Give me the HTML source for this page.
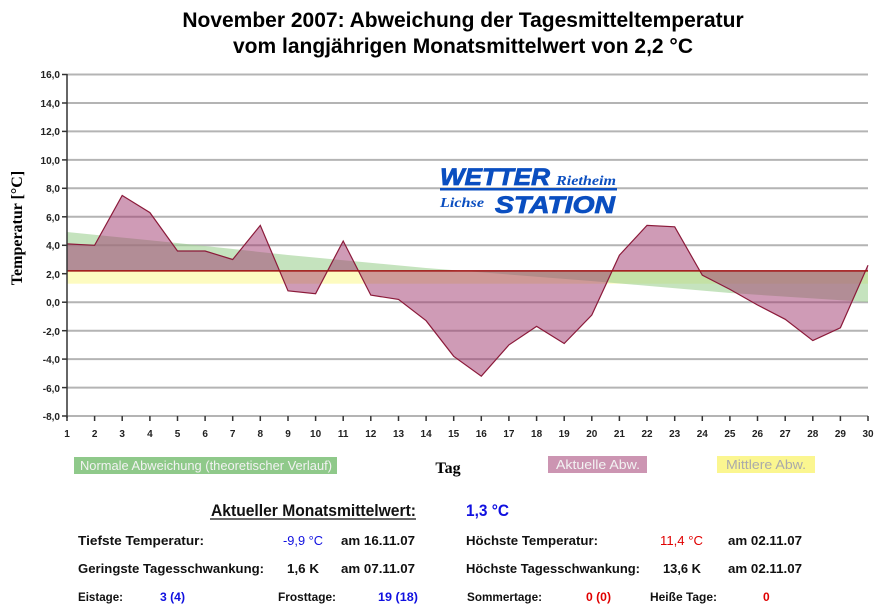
<!DOCTYPE html>
<html><head><meta charset="utf-8"><style>
body{margin:0;background:#fff;}
svg{display:block;font-family:"Liberation Sans",Arial,sans-serif;}
</style></head><body>
<svg width="881" height="608" viewBox="0 0 881 608">
<text x="463" y="27" font-weight="bold" font-size="21" text-anchor="middle">November 2007: Abweichung der Tagesmitteltemperatur</text>
<text x="463" y="53" font-weight="bold" font-size="21" text-anchor="middle">vom langjährigen Monatsmittelwert von 2,2 °C</text>

<g stroke="#b4b4b4" stroke-width="2">
<line x1="67" y1="74.5" x2="868" y2="74.5"/><line x1="67" y1="103" x2="868" y2="103"/>
<line x1="67" y1="131.4" x2="868" y2="131.4"/><line x1="67" y1="159.9" x2="868" y2="159.9"/>
<line x1="67" y1="188.3" x2="868" y2="188.3"/><line x1="67" y1="216.8" x2="868" y2="216.8"/>
<line x1="67" y1="245.3" x2="868" y2="245.3"/><line x1="67" y1="273.7" x2="868" y2="273.7"/>
<line x1="67" y1="302.2" x2="868" y2="302.2"/><line x1="67" y1="330.7" x2="868" y2="330.7"/>
<line x1="67" y1="359.1" x2="868" y2="359.1"/><line x1="67" y1="387.6" x2="868" y2="387.6"/>
<line x1="67" y1="416" x2="868" y2="416"/>
</g>
<rect x="67" y="270.9" width="801" height="12.8" fill="#fdfbc0"/>
<polygon points="67,232 177,243 288,255 426,268 591,281 730,293 868,302 868,270.9 67,270.9" fill="#9fd092" fill-opacity="0.6"/>
<polygon points="67,270.9 67,243.9 94.6,245.3 122.2,195.5 149.9,212.6 177.5,251 205.1,251 232.7,259.5 260.3,225.4 288,290.8 315.6,293.7 343.2,241 370.8,295.1 398.5,299.4 426.1,320.7 453.7,356.3 481.3,376.2 508.9,344.9 536.6,326.4 564.2,343.5 591.8,315 619.4,255.2 647,225.4 674.7,226.8 702.3,275.2 729.9,289.4 757.5,305 785.2,319.3 812.8,340.6 840.4,327.8 868,265.2 868,270.9" fill="#a0386e" fill-opacity="0.5"/>
<polyline points="67,243.9 94.6,245.3 122.2,195.5 149.9,212.6 177.5,251 205.1,251 232.7,259.5 260.3,225.4 288,290.8 315.6,293.7 343.2,241 370.8,295.1 398.5,299.4 426.1,320.7 453.7,356.3 481.3,376.2 508.9,344.9 536.6,326.4 564.2,343.5 591.8,315 619.4,255.2 647,225.4 674.7,226.8 702.3,275.2 729.9,289.4 757.5,305 785.2,319.3 812.8,340.6 840.4,327.8 868,265.2" fill="none" stroke="#8b1a3a" stroke-width="1.2"/>
<line x1="67" y1="270.9" x2="868" y2="270.9" stroke="#a01010" stroke-width="1.5"/>
<line x1="67" y1="74" x2="67" y2="418" stroke="#333" stroke-width="1.5"/>
<g stroke="#333" stroke-width="1.5">
<line x1="62" y1="74.5" x2="67" y2="74.5"/><line x1="62" y1="103" x2="67" y2="103"/><line x1="62" y1="131.4" x2="67" y2="131.4"/><line x1="62" y1="159.9" x2="67" y2="159.9"/><line x1="62" y1="188.3" x2="67" y2="188.3"/><line x1="62" y1="216.8" x2="67" y2="216.8"/><line x1="62" y1="245.3" x2="67" y2="245.3"/><line x1="62" y1="273.7" x2="67" y2="273.7"/><line x1="62" y1="302.2" x2="67" y2="302.2"/><line x1="62" y1="330.7" x2="67" y2="330.7"/><line x1="62" y1="359.1" x2="67" y2="359.1"/><line x1="62" y1="387.6" x2="67" y2="387.6"/><line x1="62" y1="416" x2="67" y2="416"/>
</g>
<g font-size="10" font-weight="bold" fill="#222" text-anchor="end">
<text x="60" y="78">16,0</text><text x="60" y="107">14,0</text><text x="60" y="135">12,0</text><text x="60" y="164">10,0</text><text x="60" y="192">8,0</text><text x="60" y="221">6,0</text><text x="60" y="249">4,0</text><text x="60" y="278">2,0</text><text x="60" y="306">0,0</text><text x="60" y="335">-2,0</text><text x="60" y="363">-4,0</text><text x="60" y="392">-6,0</text><text x="60" y="420">-8,0</text>
</g>
<g font-size="10" font-weight="bold" fill="#222" text-anchor="middle">
<text x="67" y="437">1</text><text x="94.6" y="437">2</text><text x="122.2" y="437">3</text><text x="149.9" y="437">4</text><text x="177.5" y="437">5</text><text x="205.1" y="437">6</text><text x="232.7" y="437">7</text><text x="260.3" y="437">8</text><text x="288" y="437">9</text><text x="315.6" y="437">10</text><text x="343.2" y="437">11</text><text x="370.8" y="437">12</text><text x="398.5" y="437">13</text><text x="426.1" y="437">14</text><text x="453.7" y="437">15</text><text x="481.3" y="437">16</text><text x="508.9" y="437">17</text><text x="536.6" y="437">18</text><text x="564.2" y="437">19</text><text x="591.8" y="437">20</text><text x="619.4" y="437">21</text><text x="647" y="437">22</text><text x="674.7" y="437">23</text><text x="702.3" y="437">24</text><text x="729.9" y="437">25</text><text x="757.5" y="437">26</text><text x="785.2" y="437">27</text><text x="812.8" y="437">28</text><text x="840.4" y="437">29</text><text x="868" y="437">30</text>
</g>
<g stroke="#333" stroke-width="1.5">
<path d="M67,416v5M94.6,416v5M122.2,416v5M149.9,416v5M177.5,416v5M205.1,416v5M232.7,416v5M260.3,416v5M288,416v5M315.6,416v5M343.2,416v5M370.8,416v5M398.5,416v5M426.1,416v5M453.7,416v5M481.3,416v5M508.9,416v5M536.6,416v5M564.2,416v5M591.8,416v5M619.4,416v5M647,416v5M674.7,416v5M702.3,416v5M729.9,416v5M757.5,416v5M785.2,416v5M812.8,416v5M840.4,416v5M868,416v5"/>
</g>
<text transform="translate(22,228) rotate(-90)" font-family="Liberation Serif,serif" font-weight="bold" font-size="16" text-anchor="middle">Temperatur [°C]</text>
<text x="448" y="473" font-family="Liberation Serif,serif" font-weight="bold" font-size="16" text-anchor="middle">Tag</text>

<g font-style="italic" font-weight="bold" fill="#0a4ec0">
<text x="440" y="185" font-size="24" textLength="110" lengthAdjust="spacingAndGlyphs" stroke="#0a4ec0" stroke-width="0.8">WETTER</text>
<text x="556" y="185" font-family="Liberation Serif,serif" font-size="14" textLength="60" lengthAdjust="spacingAndGlyphs">Rietheim</text>
<rect x="440" y="188" width="177" height="2.5" fill="#0a4ec0"/>
<text x="440" y="207" font-family="Liberation Serif,serif" font-size="14" textLength="44" lengthAdjust="spacingAndGlyphs">Lichse</text>
<text x="495" y="213" font-size="24" textLength="120" lengthAdjust="spacingAndGlyphs" stroke="#0a4ec0" stroke-width="0.8">STATION</text>
</g>

<rect x="74" y="457" width="263" height="17" fill="#8fc98a"/>
<text x="80" y="470" font-size="13" fill="#f2f2f2" textLength="252" lengthAdjust="spacingAndGlyphs">Normale Abweichung (theoretischer Verlauf)</text>
<rect x="548" y="456" width="99" height="17" fill="#cc95b2"/>
<text x="556" y="469" font-size="13" fill="#f2f2f2" textLength="84" lengthAdjust="spacingAndGlyphs">Aktuelle Abw.</text>
<rect x="717" y="456" width="98" height="17" fill="#fbf690"/>
<text x="726" y="469" font-size="13" fill="#aaa" textLength="80" lengthAdjust="spacingAndGlyphs">Mittlere Abw.</text>

<g font-size="14" fill="#111" font-weight="bold" lengthAdjust="spacingAndGlyphs">
<text x="211" y="516" font-size="17" textLength="205" lengthAdjust="spacingAndGlyphs">Aktueller Monatsmittelwert:</text>
<line x1="210" y1="519" x2="416" y2="519" stroke="#111" stroke-width="1.3"/>
<text x="466" y="516" font-size="17" fill="#1010e0" textLength="43" lengthAdjust="spacingAndGlyphs">1,3 °C</text>
<text x="78" y="545" font-size="13" textLength="126" lengthAdjust="spacingAndGlyphs">Tiefste Temperatur:</text>
<text x="283" y="545" font-size="13" font-weight="normal" fill="#1010e0" textLength="40" lengthAdjust="spacingAndGlyphs">-9,9 °C</text>
<text x="341" y="545" font-size="13" textLength="74" lengthAdjust="spacingAndGlyphs">am 16.11.07</text>
<text x="466" y="545" font-size="13" textLength="132" lengthAdjust="spacingAndGlyphs">Höchste Temperatur:</text>
<text x="660" y="545" font-size="13" font-weight="normal" fill="#e00000" textLength="43" lengthAdjust="spacingAndGlyphs">11,4 °C</text>
<text x="728" y="545" font-size="13" textLength="74" lengthAdjust="spacingAndGlyphs">am 02.11.07</text>
<text x="78" y="573" font-size="13" textLength="186" lengthAdjust="spacingAndGlyphs">Geringste Tagesschwankung:</text>
<text x="287" y="573" font-size="13" textLength="32" lengthAdjust="spacingAndGlyphs">1,6 K</text>
<text x="341" y="573" font-size="13" textLength="74" lengthAdjust="spacingAndGlyphs">am 07.11.07</text>
<text x="466" y="573" font-size="13" textLength="174" lengthAdjust="spacingAndGlyphs">Höchste Tagesschwankung:</text>
<text x="663" y="573" font-size="13" textLength="38" lengthAdjust="spacingAndGlyphs">13,6 K</text>
<text x="728" y="573" font-size="13" textLength="74" lengthAdjust="spacingAndGlyphs">am 02.11.07</text>
</g>
<g font-size="12" fill="#111" font-weight="bold">
<text x="78" y="601" textLength="45" lengthAdjust="spacingAndGlyphs">Eistage:</text>
<text x="160" y="601" fill="#1010e0" textLength="25" lengthAdjust="spacingAndGlyphs">3 (4)</text>
<text x="278" y="601" textLength="58" lengthAdjust="spacingAndGlyphs">Frosttage:</text>
<text x="378" y="601" fill="#1010e0" textLength="40" lengthAdjust="spacingAndGlyphs">19 (18)</text>
<text x="467" y="601" textLength="75" lengthAdjust="spacingAndGlyphs">Sommertage:</text>
<text x="586" y="601" fill="#e00000" textLength="25" lengthAdjust="spacingAndGlyphs">0 (0)</text>
<text x="650" y="601" textLength="67" lengthAdjust="spacingAndGlyphs">Heiße Tage:</text>
<text x="763" y="601" fill="#e00000">0</text>
</g>
</svg>
</body></html>
